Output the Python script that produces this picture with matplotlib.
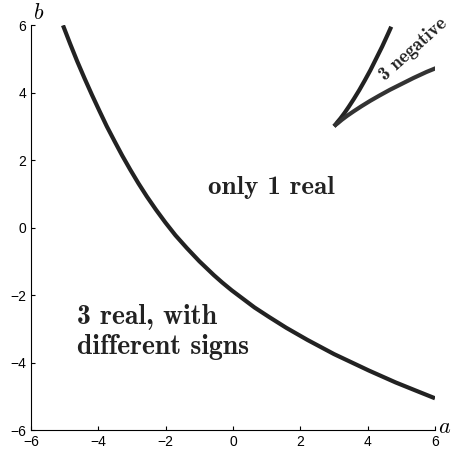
import numpy as np
import matplotlib.pyplot as plt

# points
# main boundary curve (from top-left to bottom-right)
a_main = [-5.05, -4.84, -4.63, -4.41, -4.19, -3.97, -3.75, -3.52, -3.29, -3.05,
          -2.81, -2.56, -2.29, -2.01, -1.71, -1.37, -1.0, -0.79, -0.57, -0.32,
          -0.04, 0.28, 0.64, 1.07, 1.58, 2.21, 3.0, 4.04, 4.83, 5.45, 6.0]
b_main = [5.99, 5.45, 4.93, 4.42, 3.93, 3.46, 3.0, 2.56, 2.13, 1.71,
          1.31, 0.92, 0.53, 0.15, -0.23, -0.61, -1.0, -1.20, -1.41, -1.63,
          -1.86, -2.10, -2.37, -2.65, -2.97, -3.33, -3.75, -4.24, -4.59, -4.84, -5.06]

# cusp branches starting at (3, 3)
a_up = [3.0, 3.007, 3.03, 3.09, 3.19, 3.31, 3.44, 3.59, 3.75, 3.91, 4.08,
        4.25, 4.43, 4.61, 4.70]
b_up = [3.0, 3.007, 3.03, 3.11, 3.23, 3.39, 3.58, 3.81, 4.07, 4.35, 4.66,
        5.0, 5.36, 5.75, 5.95]
a_side = [3.0, 3.007, 3.03, 3.11, 3.23, 3.39, 3.58, 3.81, 4.07, 4.35, 4.66,
          5.0, 5.36, 5.75, 6.02]
b_side = [3.0, 3.007, 3.03, 3.09, 3.19, 3.31, 3.44, 3.59, 3.75, 3.91, 4.08,
          4.25, 4.43, 4.61, 4.72]

ticks = [-6, -4, -2, 0, 2, 4, 6]

fig = plt.figure(figsize=(4.52, 4.58), dpi=100)
ax = fig.add_axes([0.0686, 0.0611, 0.8938, 0.8843])

lc = '#222222'
ax.plot(a_main, b_main, color=lc, lw=3.0, solid_capstyle='butt')
ax.plot(a_up, b_up, color=lc, lw=3.0, solid_capstyle='butt')
ax.plot(a_side, b_side, color='#333333', lw=3.0, solid_capstyle='butt')

ax.set_xlim(-6, 6)
ax.set_ylim(-6, 6)
ax.set_xticks(ticks)
ax.set_yticks(ticks)
ax.spines['top'].set_visible(False)
ax.spines['right'].set_visible(False)
ax.tick_params(direction='in', length=3, labelsize=10)
for lab in ax.get_xticklabels() + ax.get_yticklabels():
    lab.set_family('Liberation Sans')

plt.rcParams['mathtext.fontset'] = 'cm'
ax.text(6.1, -5.92, r'$a$', fontsize=16, ha='left', va='center', clip_on=False)
ax.text(-5.95, 6.05, r'$b$', fontsize=16, ha='left', va='bottom', clip_on=False)

tc = '#222222'
ax.text(1.15, 1.2, 'only 1 real', family='cmb10', fontsize=19.5, color=tc,
        ha='center', va='center')
ax.text(-4.63, -3.1, '3 real, with\ndifferent signs', family='cmb10', fontsize=20,
        color=tc, ha='left', va='center', linespacing=1.2)
ax.text(5.35, 5.3, '3 negative', family='cmb10', fontsize=13.5, rotation=42,
        color=tc, ha='center', va='center', rotation_mode='anchor')

plt.savefig('out.png')
